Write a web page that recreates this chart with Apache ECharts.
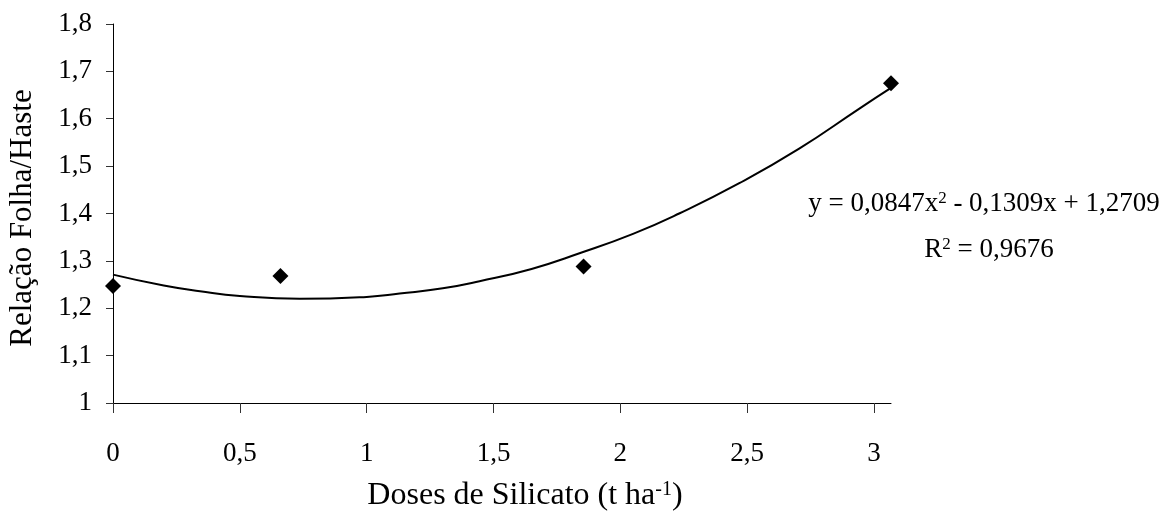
<!DOCTYPE html>
<html>
<head>
<meta charset="utf-8">
<script src="https://cdn.jsdelivr.net/npm/echarts@6/dist/echarts.min.js"></script>
<style>
html,body{margin:0;padding:0;background:#fff;}
#c{width:1172px;height:528px;}
</style>
</head>
<body>
<div id="c"></div>
<script>
// Observed points
const doseX = [0, 0.66, 1.855, 3.067];
const ratioY = [1.247, 1.268, 1.288, 1.675];
// Trend curve
const trendX = [0, 0.2, 0.343, 0.5, 0.736, 1.0, 1.13, 1.3, 1.445, 1.65, 1.839, 2.05, 2.232, 2.469, 2.705, 2.941, 3.067];
const trendY = [1.271, 1.248, 1.236, 1.226, 1.220, 1.224, 1.231, 1.242, 1.257, 1.283, 1.316, 1.357, 1.400, 1.464, 1.537, 1.621, 1.665];
// Tick values
const xTicks = [0, 0.5, 1, 1.5, 2, 2.5, 3];
const yTicks = [1, 1.1, 1.2, 1.3, 1.4, 1.5, 1.6, 1.7, 1.8];

const FONT = '"Liberation Serif","Times New Roman",serif';
const fmt = v => String(Math.round(v * 100) / 100).replace('.', ',');
const supStyle = size => ({fontSize: size, fontFamily: FONT, verticalAlign: 'top', lineHeight: Math.round(size * 0.8), fill: '#000'});

const chart = echarts.init(document.getElementById('c'), null, {renderer: 'canvas'});
chart.setOption({
  animation: false,
  backgroundColor: '#fff',
  grid: {left: 113, right: 281, top: 24, bottom: 125, containLabel: false},
  xAxis: {
    type: 'value', min: 0, max: 3.067,
    splitLine: {show: false},
    axisLine: {lineStyle: {color: '#000', width: 1}},
    axisTick: {show: true, length: 10, inside: false, customValues: xTicks, lineStyle: {color: '#333'}},
    axisLabel: {customValues: xTicks, formatter: fmt, margin: 37, color: '#000', fontFamily: FONT, fontSize: 27}
  },
  yAxis: {
    type: 'value', min: 1, max: 1.8, interval: 0.1,
    splitLine: {show: false},
    axisLine: {show: true, lineStyle: {color: '#000', width: 1}},
    axisTick: {show: true, length: 7, inside: false, customValues: yTicks, lineStyle: {color: '#333'}},
    axisLabel: {customValues: yTicks, formatter: fmt, margin: 21, color: '#000', fontFamily: FONT, fontSize: 27}
  },
  series: [
    {
      type: 'line', data: trendX.map((x, i) => [x, trendY[i]]),
      smooth: true, showSymbol: false, symbol: 'none',
      lineStyle: {color: '#000', width: 2}, z: 2
    },
    {
      type: 'scatter', data: doseX.map((x, i) => [x, ratioY[i]]),
      symbol: 'diamond', symbolSize: 16,
      itemStyle: {color: '#000', opacity: 1}, z: 3
    }
  ],
  graphic: [
    {
      type: 'text',
      style: {
        text: 'y = 0,0847x{s|2} - 0,1309x + 1,2709',
        x: 984, y: 204, align: 'center', verticalAlign: 'middle',
        font: '27px ' + FONT, fill: '#000',
        rich: {s: supStyle(17)}
      }
    },
    {
      type: 'text',
      style: {
        text: 'R{s|2} = 0,9676',
        x: 989, y: 250, align: 'center', verticalAlign: 'middle',
        font: '27px ' + FONT, fill: '#000',
        rich: {s: supStyle(17)}
      }
    },
    {
      type: 'text',
      style: {
        text: 'Doses de Silicato (t ha{s|-1})',
        x: 525, y: 496, align: 'center', verticalAlign: 'middle',
        font: '32px ' + FONT, fill: '#000',
        rich: {s: supStyle(20)}
      }
    },
    {
      type: 'text', rotation: Math.PI / 2, x: 23, y: 218,
      style: {
        text: 'Relação Folha/Haste',
        x: 0, y: 0, align: 'center', verticalAlign: 'middle',
        font: '31px ' + FONT, fill: '#000'
      }
    }
  ]
});
</script>
</body>
</html>
